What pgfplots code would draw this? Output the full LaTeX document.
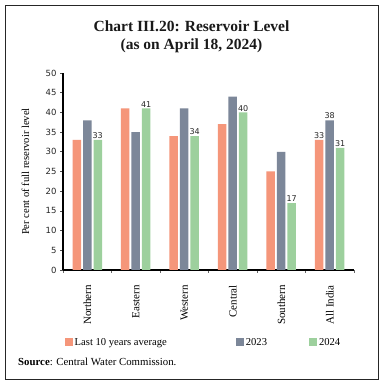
\documentclass[border=0pt]{standalone}
\usepackage{pgfplots}
\pgfplotsset{compat=1.18}
\usepackage{fontspec}
\setmainfont{Liberation Serif}
\newfontfamily\numfont{DejaVu Sans}
\definecolor{cOrange}{RGB}{245,150,122}
\definecolor{cGray}{RGB}{124,135,153}
\definecolor{cGreen}{RGB}{157,208,157}
\begin{document}
\begin{tikzpicture}
\path[fill=white] (0pt,0pt) rectangle (383pt,385pt);
\draw[line width=0.9pt, black!85] (5pt,6pt) rectangle (378pt,380pt);
\node[font=\fontsize{15.5}{17}\selectfont\bfseries, text=black!90] at (191.5pt,359pt) {Chart III.20: Reservoir Level};
\node[font=\fontsize{15.5}{17}\selectfont\bfseries, text=black!90] at (191.5pt,339pt) {(as on April 18, 2024)};
\node[anchor=west, font=\fontsize{10.8}{12}\selectfont, inner sep=0pt] at (18pt,23pt) {\textbf{Source}: Central Water Commission.};
\begin{axis}[
  at={(63pt,115pt)}, anchor=south west,
  scale only axis, width=291pt, height=197pt,
  xmin=-0.5, xmax=5.5, ymin=0, ymax=50,
  ybar, bar width=8.5pt,
  axis x line*=bottom, axis y line*=left,
  axis line style={line width=1.4pt, black},
  xtick={0,1,2,3,4,5},
  xticklabels={Northern,Eastern,Western,Central,Southern,All India},
  xticklabel style={rotate=90, anchor=east, font=\fontsize{11}{12}\selectfont, inner sep=0pt},
  xticklabel shift=12pt,
  major x tick style={draw=none},
  minor xtick={-0.5,0.5,1.5,2.5,3.5,4.5,5.5},
  minor x tick style={black!60, line width=0.6pt},
  minor tick length=3pt,
  ytick={0,5,...,50},
  major y tick style={black!70, line width=0.6pt},
  major tick length=3pt,
  tick align=outside,
  yticklabel style={font=\numfont\fontsize{8.5}{10}\selectfont, text=black!85},
  /pgf/number format/assume math mode=true,
  ylabel={Per cent of full reservoir level},
  every axis y label/.style={at={(axis description cs:-0.129,0.5)}, rotate=90, anchor=center, font=\fontsize{10.6}{12}\selectfont},
  nodes near coords style={font=\numfont\fontsize{8}{9}\selectfont, inner sep=1pt, text=black!85},
  legend style={at={(-0.005,-0.325)}, anchor=north west, draw=none, fill=none,
    font=\fontsize{10.6}{12}\selectfont, legend columns=3,
    /tikz/every even column/.append style={column sep=40pt}},
  legend image code/.code={\fill[#1] (0pt,-3.8pt) rectangle (8pt,4.2pt);},
]
\addplot[fill=cOrange, draw=none, bar shift=-10.5pt] coordinates {(0,33) (1,41) (2,34) (3,37) (4,25) (5,33)};
\addplot[fill=cGray, draw=none, bar shift=0pt] coordinates {(0,38) (1,35) (2,41) (3,44) (4,30) (5,38)};
\addplot[fill=cGreen, draw=none, bar shift=10.5pt, nodes near coords] coordinates {(0,33) (1,41) (2,34) (3,40) (4,17) (5,31)};
\addplot[draw=none, fill=none, bar shift=-10.5pt, nodes near coords, forget plot] coordinates {(5,33)};
\addplot[draw=none, fill=none, bar shift=0pt, nodes near coords, forget plot] coordinates {(5,38)};
\legend{Last 10 years average\rule{27pt}{0pt},2023,2024}
\end{axis}
\pgfresetboundingbox
\useasboundingbox (0pt,0pt) rectangle (383pt,385pt);
\end{tikzpicture}
\end{document}
